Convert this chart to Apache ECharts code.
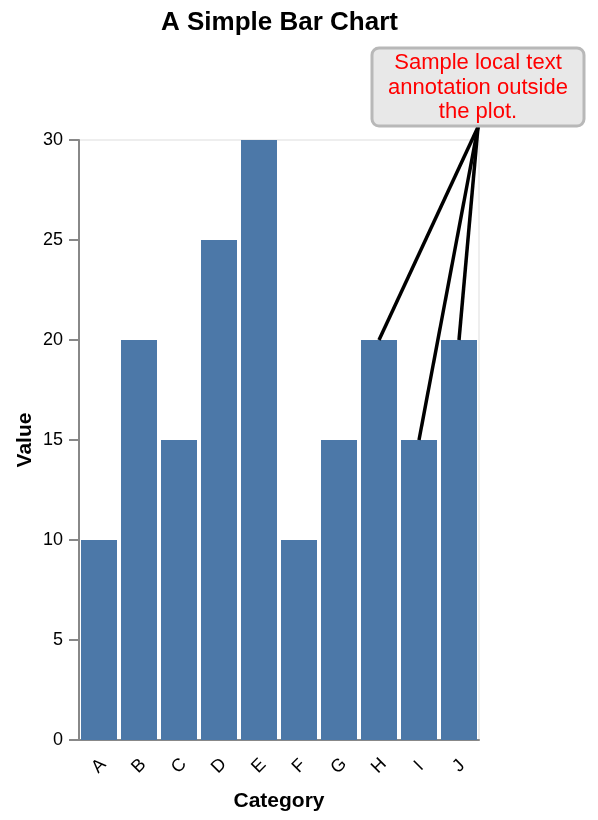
<!DOCTYPE html>
<html lang="en">
<head>
    <meta charset="UTF-8">
    <title>A Simple Bar Chart</title>
    <script src="https://cdn.jsdelivr.net/npm/echarts@6.0.0/dist/echarts.min.js"></script>
    <style>
        html, body { margin: 0; padding: 0; background: #fff; }
        #main { width: 598px; height: 820px; }
    </style>
</head>
<body>
    <div id="main"></div>

    <script type="text/javascript">
        // chart data
        var categories = ['A', 'B', 'C', 'D', 'E', 'F', 'G', 'H', 'I', 'J'];
        var values = [10, 20, 15, 25, 30, 10, 15, 20, 15, 20];
        // bars the note points at
        var annotatedCategories = ['H', 'I', 'J'];
        var annotationLines = ['Sample local text', 'annotation outside', 'the plot.'];

        var FONT = '"Liberation Sans", Helvetica, Arial, sans-serif';

        var chart = echarts.init(document.getElementById('main'), null, { renderer: 'canvas' });

        var option = {
            animation: false,
            title: {
                text: 'A Simple Bar Chart',
                left: 156,
                top: 5,
                textStyle: { fontFamily: FONT, fontSize: 26, fontWeight: 'bold', color: '#000' }
            },
            grid: {
                left: 79, right: 119, top: 140, bottom: 80,
                show: true,
                borderColor: '#dddddd',
                borderWidth: 1,
                backgroundColor: 'transparent'
            },
            xAxis: {
                type: 'category',
                data: categories,
                name: 'Category',
                nameLocation: 'middle',
                nameGap: 51,
                nameTextStyle: { fontFamily: FONT, fontSize: 21, fontWeight: 'bold', color: '#000' },
                axisLine: { lineStyle: { color: '#888', width: 2 } },
                axisTick: { alignWithLabel: true, length: 10, lineStyle: { color: '#888', width: 2 } },
                axisLabel: {
                    rotate: 45, margin: 26, align: 'center', verticalAlign: 'middle',
                    fontFamily: FONT, fontSize: 18, color: '#000'
                }
            },
            yAxis: {
                type: 'value',
                min: 0,
                max: 30,
                interval: 5,
                name: 'Value',
                nameLocation: 'middle',
                nameGap: 43,
                nameMoveOverlap: false,
                nameRotate: 90,
                nameTextStyle: { fontFamily: FONT, fontSize: 21, fontWeight: 'bold', color: '#000' },
                axisLine: { show: true, lineStyle: { color: '#888', width: 2 } },
                axisTick: { show: true, length: 10, lineStyle: { color: '#888', width: 2 } },
                axisLabel: { margin: 16, fontFamily: FONT, fontSize: 18, color: '#000' },
                splitLine: { show: false }
            },
            series: [{
                type: 'bar',
                data: values,
                barCategoryGap: '10%',
                itemStyle: { color: '#4c78a8' }
            }]
        };

        chart.setOption(option);

        // note box sits above the plot, lines go from its bottom centre to the bar tops
        var box = { x: 372, y: 48, width: 212, height: 78 };
        var anchor = [box.x + box.width / 2, box.y + box.height + 1];

        var elements = annotatedCategories.map(function (cat) {
            var idx = categories.indexOf(cat);
            var p = chart.convertToPixel({ seriesIndex: 0 }, [cat, values[idx]]);
            return {
                type: 'line',
                z: 100,
                shape: { x1: anchor[0], y1: anchor[1], x2: p[0], y2: p[1] },
                style: { stroke: '#000', lineWidth: 3.5 }
            };
        });

        elements.push({
            type: 'rect',
            z: 101,
            shape: { x: box.x, y: box.y, width: box.width, height: box.height, r: 7 },
            style: { fill: '#e8e8e8', stroke: '#b8b8b8', lineWidth: 3 }
        });
        elements.push({
            type: 'text',
            z: 102,
            x: anchor[0],
            y: 51,
            style: {
                text: annotationLines.join('\n'),
                fill: '#ff0000',
                font: '22px ' + FONT,
                lineHeight: 24.5,
                align: 'center',
                verticalAlign: 'top'
            }
        });

        chart.setOption({ graphic: { elements: elements } });
    </script>
</body>
</html>
